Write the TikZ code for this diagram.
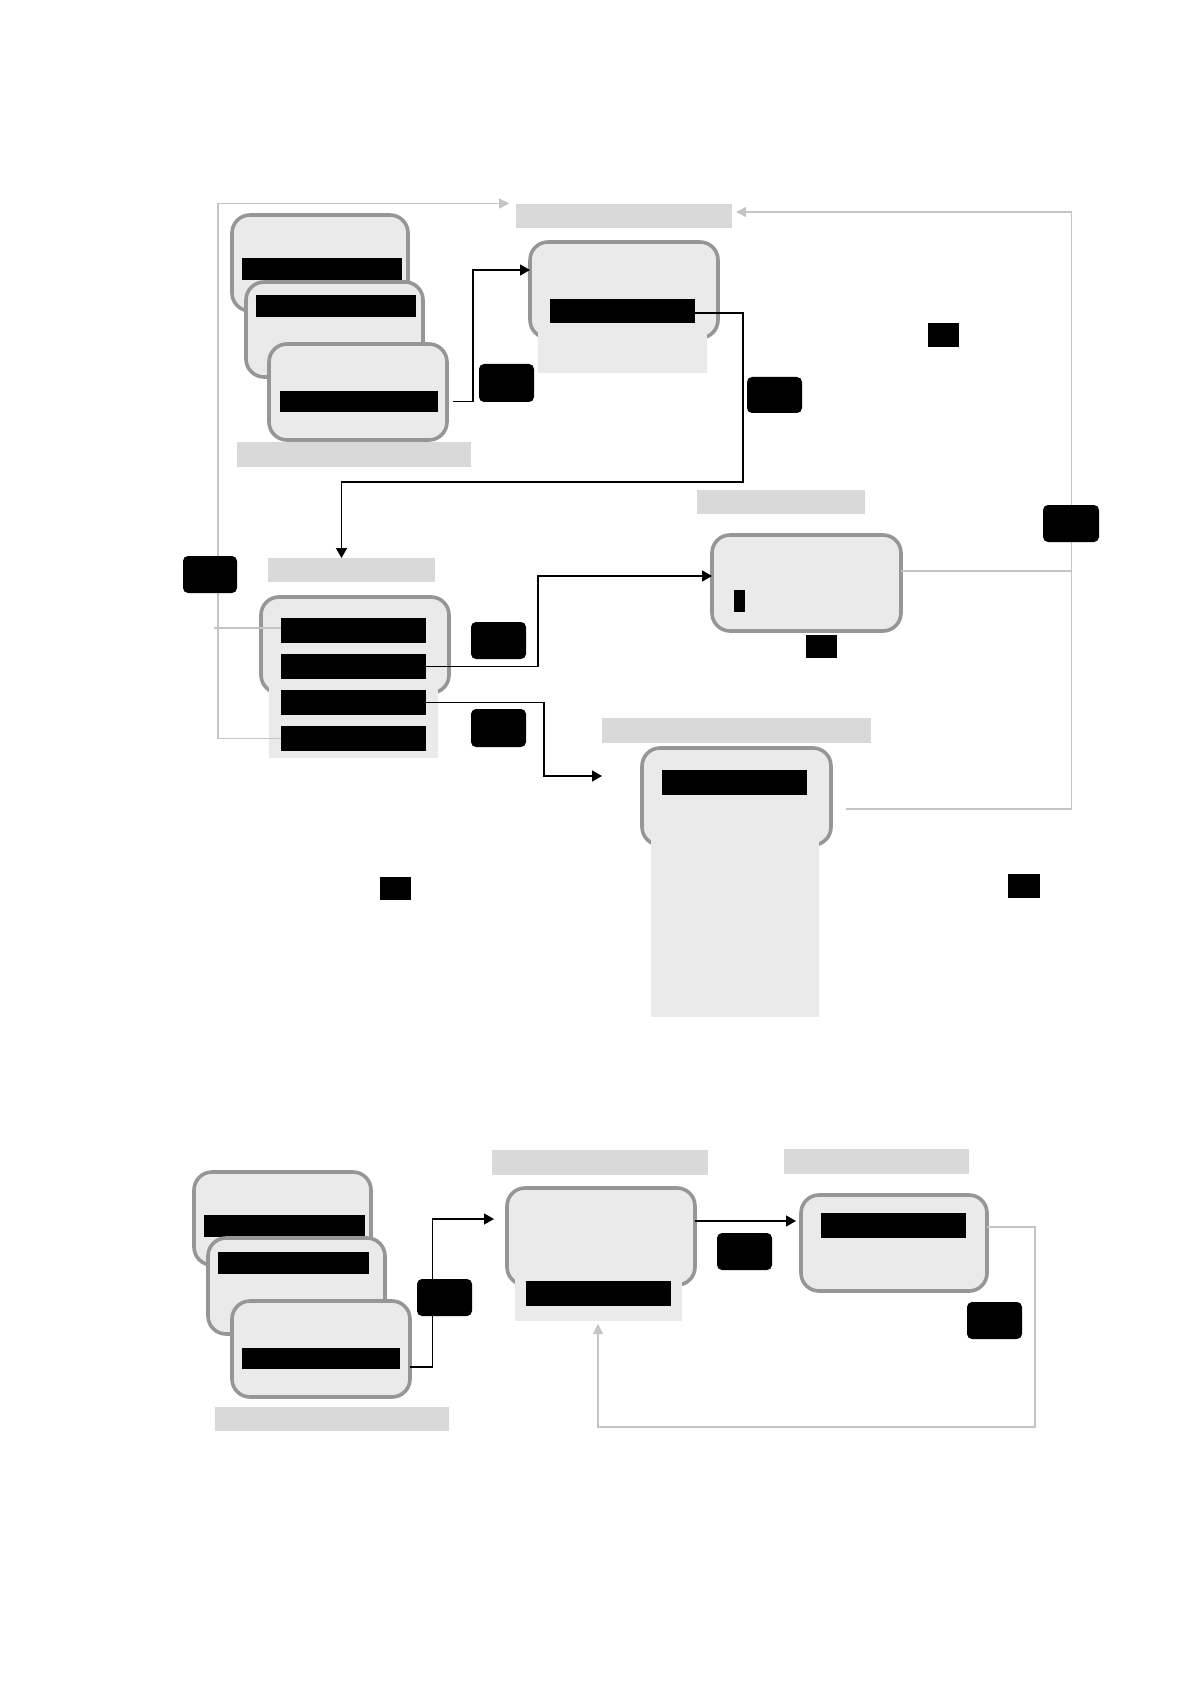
\documentclass[tikz,border=0pt]{standalone}
\usetikzlibrary{arrows.meta,calc}
\definecolor{cardfill}{HTML}{EAEAEA}
\definecolor{cardline}{HTML}{969696}
\definecolor{titlegray}{HTML}{D9D9D9}
\definecolor{linegray}{HTML}{C4C4C4}
\pgfdeclarelayer{fg}
\pgfsetlayers{main,fg}
\tikzset{
  every node/.style={inner sep=0pt, outer sep=0pt},
  card/.style={draw=cardline, fill=cardfill, line width=1.8pt, rounded corners=9pt},
  panel/.style={fill=cardfill},
  bar/.style={fill=black},
  titlebar/.style={fill=titlegray},
  tag/.style={fill=black, rounded corners=2.5pt},
  sq/.style={fill=black},
  conn/.style={draw=black, line width=0.7pt, -{Triangle[length=5pt,width=5.5pt]}},
  gline/.style={draw=linegray, line width=0.6pt},
  garrow/.style={draw=linegray, line width=0.7pt, -{Triangle[length=5pt,width=5pt]}},
}
\newcommand{\bx}[6]{\node[#1, anchor=north west, minimum width={(#5-(#3))*0.5pt}, minimum height={(#6-(#4))*0.5pt}] (#2) at (#3,#4) {};}
\begin{document}
\begin{tikzpicture}[x=0.5pt, y=-0.5pt]
\useasboundingbox (0,0) rectangle (1191,1684);
% ---- top-left stack
\bx{card}{cA}{232}{215}{408}{311}
\bx{bar}{bA}{242}{258}{402}{280}
\bx{card}{cB}{246}{282}{423}{377}
\bx{bar}{bB}{256}{295}{416}{317}
\bx{card}{cC}{269}{344}{447}{440}
\bx{bar}{bC}{280}{391}{438}{412}
\bx{titlebar}{tS}{237}{442}{471}{467}
\bx{tag}{g0}{479}{364}{534}{402}
% ---- D
\bx{titlebar}{tD}{516}{204}{732}{228}
\bx{card}{cD}{530}{242}{718}{338}
\bx{panel}{pD}{538}{300}{707}{373}
\bx{bar}{bD}{550}{299}{695}{323}
\bx{tag}{g1}{747}{377}{802}{413}
\bx{sq}{s1}{928}{323}{959}{347}
% ---- F
\bx{titlebar}{tF}{268}{558}{435}{582}
\bx{card}{cF}{261}{597}{449}{693}
\bx{panel}{pF}{269}{650}{438}{758}
\bx{bar}{f1}{281}{618}{426}{643}
\bx{bar}{f2}{281}{654}{426}{679}
\bx{bar}{f3}{281}{690}{426}{715}
\bx{bar}{f4}{281}{726}{426}{751}
\bx{tag}{g3}{471}{622}{526}{659}
\bx{tag}{g4}{471}{709}{526}{747}
% ---- E
\bx{titlebar}{tE}{697}{490}{865}{514}
\bx{card}{cE}{712}{535}{901}{631}
\bx{bar}{bE}{734}{590}{745}{612}
\bx{sq}{s2}{806}{635}{837}{658}
% ---- G
\bx{titlebar}{tG}{602}{718}{871}{743}
\bx{card}{cG}{642}{748}{831}{845}
\bx{panel}{pG}{651}{810}{819}{1017}
\bx{bar}{bG}{662}{770}{807}{795}
\bx{sq}{s3}{380}{877}{411}{900}
\bx{sq}{s4}{1008}{874}{1040}{898}
% ---- bottom
\bx{card}{cP1}{194}{1172}{371}{1265}
\bx{bar}{bP1}{204}{1215}{365}{1237}
\bx{card}{cP2}{208}{1238}{385}{1334}
\bx{bar}{bP2}{218}{1252}{369}{1274}
\bx{card}{cP3}{232}{1301}{410}{1397}
\bx{bar}{bP3}{242}{1348}{400}{1369}
\bx{titlebar}{tP}{215}{1407}{449}{1431}
\bx{titlebar}{tQ}{492}{1150}{708}{1175}
\bx{card}{cQ}{507}{1188}{695}{1285}
\bx{panel}{pQ}{515}{1250}{682}{1321}
\bx{bar}{bQ}{526}{1281}{671}{1306}
\bx{tag}{h2}{717}{1233}{772}{1270}
\bx{titlebar}{tR}{784}{1149}{969}{1174}
\bx{card}{cR}{801}{1195}{987}{1291}
\bx{bar}{bR}{821}{1213}{966}{1238}
\bx{tag}{h3}{967}{1302}{1022}{1339}
% ---- tags lying over connectors
\begin{pgfonlayer}{fg}
\bx{tag}{g2}{1043}{505}{1099}{542}
\bx{tag}{gL}{183}{556}{237}{593}
\bx{tag}{h1}{417}{1279}{472}{1316}
\end{pgfonlayer}
% ---- connectors
\draw[conn] ($(cC.east |- bC.east)+(6,0)$) -| (473,270) -- (cD.west |- 0,270);
\draw[conn] (bD.east |- 0,313) -| (743,482) -- (341.5,482) -- (341.5,0 |- tF.north);
\draw[conn] (f2.east) -| (538,576) -- (cE.west |- 0,576);
\draw[conn] (f3.east) -| (544,776) -- (tG.west |- 0,776);
\draw[garrow] (f4.west) -| (218,203.5) -- ($(tD.north west)+(-7,-0.5)$);
\draw[gline] (f1.west |- 0,628) -- (214,628);
\draw[garrow] ($(cG.east |- 0,809)+(15,0)$) -| (1071.5,212) -- ($(tD.east |- 0,212)+(4,0)$);
\draw[gline] (cE.east |- 0,571) -- (1071.5,571);
\draw[conn] (cP3.east |- 0,1367) -| (432.5,1219) -- ($(cQ.west |- 0,1219)+(-13,0)$);
\draw[conn, shorten >=2.5pt] (cQ.east |- 0,1221) -- (cR.west |- 0,1221);
\draw[garrow, shorten >=1.5pt] (cR.east |- 0,1227) -| (1035,1427) -| (598,0 |- pQ.south);
\end{tikzpicture}
\end{document}
